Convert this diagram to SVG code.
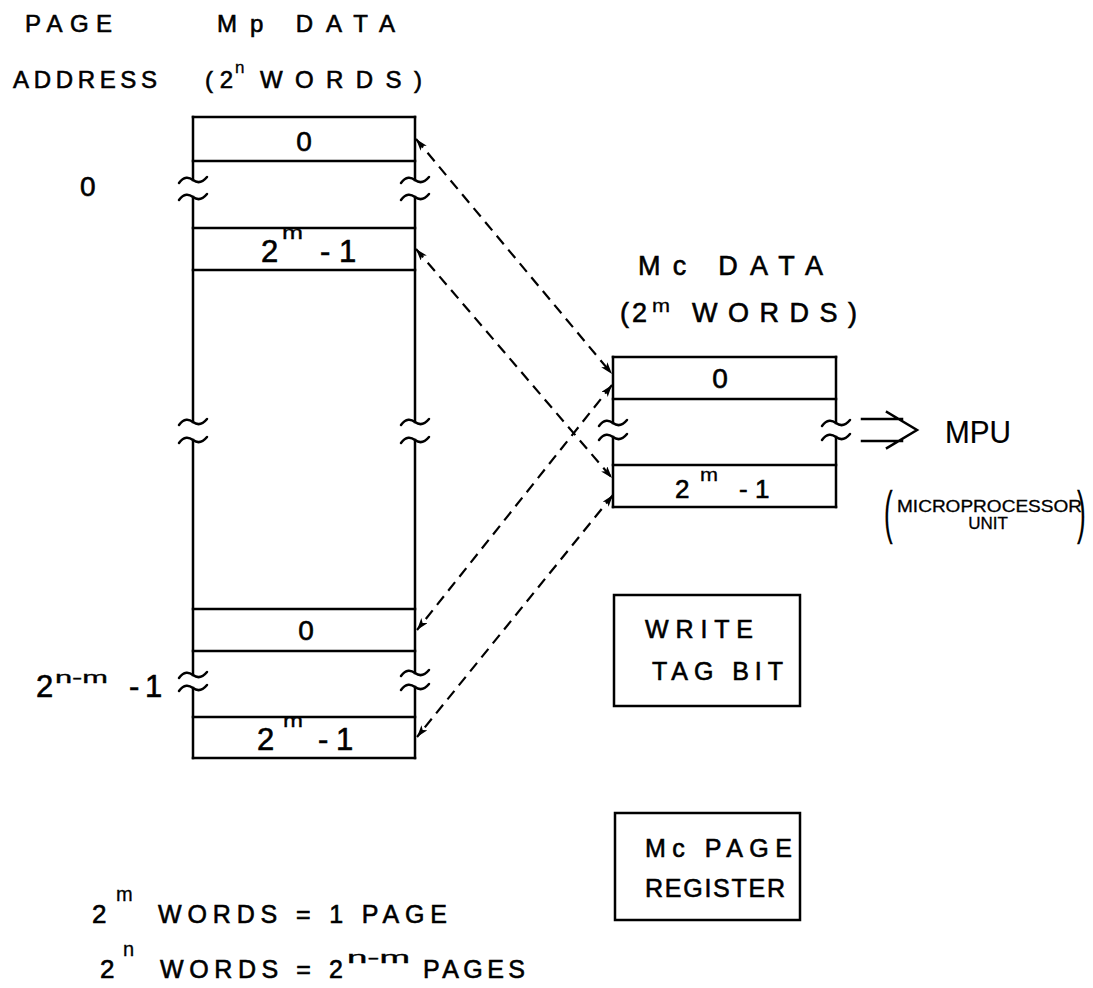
<svg xmlns="http://www.w3.org/2000/svg" width="1093" height="988" viewBox="0 0 1093 988">
<defs>
<style>
.ln{stroke:#000;stroke-width:2.5;fill:none;stroke-linecap:square}
.sq{stroke:#000;stroke-width:2.5;fill:none;stroke-linecap:round}
.bx{stroke:#000;stroke-width:2.5;fill:#fff}
.ds{stroke:#000;stroke-width:2.2;fill:none;stroke-dasharray:11 7}
text{font-family:"Liberation Sans",Arial,sans-serif;fill:#000;stroke:#000;stroke-width:0.6}
.t24{font-size:24px}.t26{font-size:28px}.t30{font-size:31px}.sup{font-size:19px;stroke-width:0.3}
.nm{font-size:16px;stroke-width:0.3}
</style>
<marker id="ah" viewBox="0 0 12 8" refX="12" refY="4" markerWidth="12" markerHeight="8" markerUnits="userSpaceOnUse" orient="auto-start-reverse">
<path d="M0,0 L12,4 L0,8 L3,4 z" fill="#000"/>
</marker>
<path id="tl" d="M-14,3 C-9,-4 -4,-3 0,0 S9,3 14,-3"/>
</defs>
<rect width="1093" height="988" fill="#fff"/>

<g id="headers">
<text class="t24" x="25" y="32" textLength="87" lengthAdjust="spacing">PAGE</text>
<text class="t24" x="13" y="88" textLength="144" lengthAdjust="spacing">ADDRESS</text>
<text class="t24" x="217" y="32" textLength="178" lengthAdjust="spacing">Mp DATA</text>
<text class="t24" x="205" y="88" textLength="28" lengthAdjust="spacing">(2</text>
<text class="sup" x="235" y="73" style="font-size:17px">n</text>
<text class="t24" x="260" y="88" textLength="162" lengthAdjust="spacing">WORDS)</text>
</g>

<g id="mp-memory">
<path class="ln" d="M193,117 H415 M193,161 H415 M193,228 H415 M193,270 H415 M193,609 H415 M193,651 H415 M193,717 H415 M193,758 H415"/>
<path class="ln" d="M193,117 V180 M193,197 V422 M193,440 V675 M193,688 V758"/>
<path class="ln" d="M415,117 V180 M415,197 V422 M415,440 V673 M415,687 V758"/>
<g class="sq">
<use href="#tl" x="193" y="180"/><use href="#tl" x="193" y="197"/>
<use href="#tl" x="415" y="180"/><use href="#tl" x="415" y="197"/>
<use href="#tl" x="193" y="422"/><use href="#tl" x="193" y="440"/>
<use href="#tl" x="415" y="422"/><use href="#tl" x="415" y="440"/>
<use href="#tl" x="193" y="675"/><use href="#tl" x="193" y="688"/>
<use href="#tl" x="415" y="673"/><use href="#tl" x="415" y="687"/>
</g>
<text class="t26" x="304" y="151" text-anchor="middle">0</text>
<text class="t30" x="261" y="262">2</text>
<text class="sup" x="282" y="239" textLength="21" lengthAdjust="spacingAndGlyphs">m</text>
<text class="t30" x="320" y="262">-</text>
<text class="t30" x="339" y="262">1</text>
<text class="t26" x="306" y="640" text-anchor="middle">0</text>
<text class="t30" x="257" y="750">2</text>
<text class="sup" x="283" y="727" textLength="20" lengthAdjust="spacingAndGlyphs">m</text>
<text class="t30" x="318" y="750">-</text>
<text class="t30" x="336" y="750">1</text>
</g>

<g id="page-labels">
<text class="t26" x="80" y="196">0</text>
<text class="t30" x="36" y="697">2</text>
<text class="nm" x="55" y="683" textLength="53" lengthAdjust="spacingAndGlyphs">n-m</text>
<text class="t30" x="129" y="697">-</text>
<text class="t30" x="145" y="697">1</text>
</g>

<g id="mc-memory">
<text x="638" y="275" style="font-size:27px" textLength="185" lengthAdjust="spacing">Mc DATA</text>
<text x="620" y="322" style="font-size:27px">(</text>
<text x="632" y="322" style="font-size:27px">2</text>
<text class="sup" x="652" y="312" textLength="18" lengthAdjust="spacingAndGlyphs">m</text>
<text x="692" y="322" style="font-size:27px" textLength="165" lengthAdjust="spacing">WORDS)</text>
<path class="ln" d="M613,357 H836 M613,399 H836 M613,465 H836 M613,507 H836"/>
<path class="ln" d="M613,357 V423 M613,437 V507 M836,357 V423 M836,437 V507"/>
<g class="sq">
<use href="#tl" x="613" y="423"/><use href="#tl" x="613" y="437"/>
<use href="#tl" x="836" y="423"/><use href="#tl" x="836" y="437"/>
</g>
<text class="t26" x="720" y="388" text-anchor="middle">0</text>
<text x="675" y="498" style="font-size:26px">2</text>
<text class="sup" x="700" y="481" textLength="18" lengthAdjust="spacingAndGlyphs">m</text>
<text x="739" y="498" style="font-size:26px">-</text>
<text x="755" y="498" style="font-size:26px">1</text>
</g>

<g id="mpu">
<path class="ln" d="M862,419 H902 M862,441 H902 M887,412 L917,430 L887,448"/>
<text x="945" y="443" style="font-size:32px;stroke-width:0.2" textLength="66" lengthAdjust="spacingAndGlyphs">MPU</text>
<text x="884" y="532" style="font-size:58px;stroke-width:0.3" transform="translate(884 0) scale(0.45 1) translate(-884 0)">(</text>
<text x="1077" y="532" style="font-size:58px;stroke-width:0.3" transform="translate(1077 0) scale(0.45 1) translate(-1077 0)">)</text>
<text x="897" y="512" style="font-size:17px;stroke-width:0.3" textLength="185" lengthAdjust="spacingAndGlyphs">MICROPROCESSOR</text>
<text x="988" y="529" style="font-size:17px;stroke-width:0.3" text-anchor="middle">UNIT</text>
</g>

<g id="write-tag-bit">
<rect class="bx" x="614" y="595" width="186" height="111"/>
<text x="645" y="638" style="font-size:25px" textLength="108" lengthAdjust="spacing">WRITE</text>
<text x="652" y="680" style="font-size:25px" textLength="131" lengthAdjust="spacing">TAG BIT</text>
</g>

<g id="mc-page-register">
<rect class="bx" x="615" y="813" width="185" height="107"/>
<text x="645" y="857" style="font-size:25px" textLength="147" lengthAdjust="spacing">Mc PAGE</text>
<text x="645" y="897" style="font-size:25px" textLength="140" lengthAdjust="spacing">REGISTER</text>
</g>

<g id="legend">
<text x="92" y="923" style="font-size:26px">2</text>
<text class="sup" x="116" y="901" style="font-size:20px">m</text>
<text x="158" y="923" style="font-size:25px" textLength="289" lengthAdjust="spacing">WORDS = 1 PAGE</text>
<text x="100" y="978" style="font-size:26px">2</text>
<text class="sup" x="123" y="956" style="font-size:20px">n</text>
<text x="160" y="978" style="font-size:25px" textLength="183" lengthAdjust="spacing">WORDS = 2</text>
<text class="nm" x="347" y="963" textLength="63" lengthAdjust="spacingAndGlyphs">n-m</text>
<text x="423" y="978" style="font-size:25px" textLength="102" lengthAdjust="spacing">PAGES</text>
</g>

<g id="connectors">
<line class="ds" x1="416" y1="139" x2="612" y2="374" marker-start="url(#ah)" marker-end="url(#ah)"/>
<line class="ds" x1="416" y1="249" x2="612" y2="478" marker-start="url(#ah)" marker-end="url(#ah)"/>
<line class="ds" x1="612" y1="385" x2="417" y2="630" marker-start="url(#ah)" marker-end="url(#ah)"/>
<line class="ds" x1="613" y1="495" x2="417" y2="737" marker-start="url(#ah)" marker-end="url(#ah)"/>
</g>
</svg>
